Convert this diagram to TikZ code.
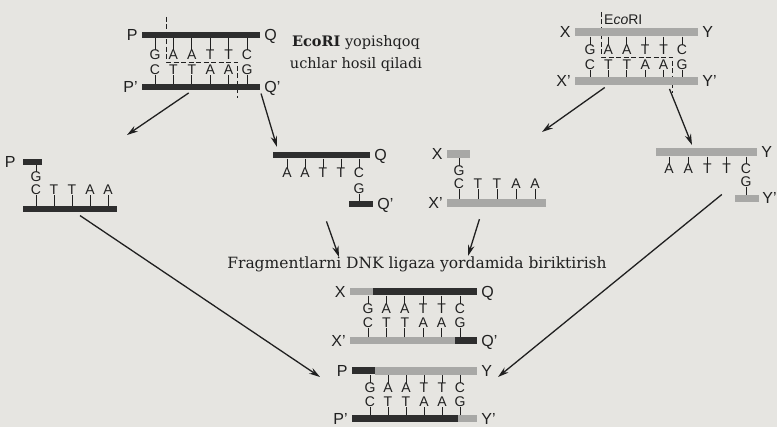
\documentclass[tikz,border=0pt]{standalone}
\usepackage{fontspec}
\setmainfont{DejaVu Serif}
\setsansfont{Liberation Sans}
\usetikzlibrary{arrows.meta,positioning}
\definecolor{paper}{HTML}{E6E5E1}
\definecolor{ink}{HTML}{202020}
\definecolor{dark}{HTML}{2E2E2E}
\definecolor{pale}{HTML}{A8A8A6}

\begin{document}
\begin{tikzpicture}[
  x=1pt, y=-1pt,
  >=Stealth,
  dstrand/.style={fill=dark, inner sep=0, minimum height=6pt},
  lstrand/.style={fill=pale, inner sep=0, minimum height=8pt},
  nuc/.style={font=\sffamily\fontsize{14}{15}\selectfont, text=ink, inner sep=0, text height=10pt, text depth=0pt},
  endlbl/.style={font=\sffamily\fontsize{16}{16}\selectfont, text=ink, inner sep=0, text height=11pt, text depth=0pt},
  stem/.style={draw=ink, line width=0.8pt},
  cutline/.style={draw=ink, line width=0.7pt, dash pattern=on 5pt off 2.5pt},
  arr/.style={draw=ink, line width=1.3pt, -{Stealth[length=11pt,width=6.5pt]}},
  note/.style={font=\fontsize{14.5}{22}\selectfont, text=ink, align=center, inner sep=0},
]
\useasboundingbox (0,0) rectangle (777,427);
\fill[paper] (0,0) rectangle (777,427);

% P-Q duplex with the EcoRI site
\draw[cutline] (166,17) -- (166,62) -- (237,62) -- (237,98);
\node[dstrand, minimum width=118pt] (pqt) at (201,35) {};
\node[dstrand, minimum width=118pt] (pqb) at (201,87.5) {};
\node[endlbl, left=4pt of pqt] (pql) {P};
\node[endlbl, right=4pt of pqt] (pqr) {Q};
\node[endlbl, left=4pt of pqb] (pqbl) {P'};
\node[endlbl, right=4pt of pqb] (pqbr) {Q'};
\foreach \b [count=\i] in {G,A,A,T,T,C}
  \node[nuc] (pq\i) at ({155+18.4*(\i-1)},55) {\b};
\foreach \b [count=\i] in {C,T,T,A,A,G}
  \node[nuc] (pqc\i) at ({155+18.4*(\i-1)},70) {\b};
\foreach \i in {1,...,6} {
  \draw[stem] (pqt.south -| pq\i) -- (pq\i.north);
  \draw[stem] (pqb.north -| pqc\i) -- (pqc\i.south);
}
\node[note] (ecotxt) at (356,54) {\textbf{EcoRI} yopishqoq\\uchlar hosil qiladi};

% X-Y duplex
\draw[cutline] (601,12) -- (601,57) -- (672,57) -- (672,93);
\node[nuc, anchor=west] (eco) at (604,20) {E\textit{co}RI};
\node[lstrand, minimum width=123pt] (xyt) at (636.5,32.5) {};
\node[lstrand, minimum width=123pt] (xyb) at (636.5,81) {};
\node[endlbl, left=4pt of xyt] (xyl) {X};
\node[endlbl, right=4pt of xyt] (xyr) {Y};
\node[endlbl, left=4pt of xyb] (xybl) {X'};
\node[endlbl, right=4pt of xyb] (xybr) {Y'};
\foreach \b [count=\i] in {G,A,A,T,T,C}
  \node[nuc] (xy\i) at ({590+18.4*(\i-1)},50) {\b};
\foreach \b [count=\i] in {C,T,T,A,A,G}
  \node[nuc] (xyc\i) at ({590+18.4*(\i-1)},65) {\b};
\foreach \i in {1,...,6} {
  \draw[stem] (xyt.south -| xy\i) -- (xy\i.north);
  \draw[stem] (xyb.north -| xyc\i) -- (xyc\i.south);
}

% fragment P
\node[dstrand, minimum width=19pt] (fpt) at (32.5,162) {};
\node[endlbl, left=7pt of fpt] (fpl) {P};
\node[nuc] (fpg) at (36,177) {G};
\foreach \b [count=\i] in {C,T,T,A,A}
  \node[nuc] (fp\i) at ({36+18*(\i-1)},190) {\b};
\node[dstrand, minimum width=94pt] (fpb) at (70,209) {};
\draw[stem] (fpt.south -| fpg) -- (fpg.north);
\foreach \i in {1,...,5}
  \draw[stem] (fpb.north -| fp\i) -- (fp\i.south);

% fragment Q
\node[dstrand, minimum width=97pt] (fqt) at (321.5,155.5) {};
\node[endlbl, right=4pt of fqt] (fqr) {Q};
\foreach \b [count=\i] in {A,A,T,T,C}
  \node[nuc] (fq\i) at ({287+18*(\i-1)},173) {\b};
\node[nuc] (fqg) at (359,189) {G};
\node[dstrand, minimum width=24pt] (fqb) at (361,204) {};
\node[endlbl, right=4pt of fqb] (fqbr) {Q'};
\foreach \i in {1,...,5}
  \draw[stem] (fqt.south -| fq\i) -- (fq\i.north);
\draw[stem] (fqb.north -| fqg) -- (fqg.south);

% fragment X
\node[lstrand, minimum width=23pt] (fxt) at (458.5,154) {};
\node[endlbl, left=4pt of fxt] (fxl) {X};
\node[nuc] (fxg) at (459,171) {G};
\foreach \b [count=\i] in {C,T,T,A,A}
  \node[nuc] (fx\i) at ({459+19*(\i-1)},184) {\b};
\node[lstrand, minimum width=99pt] (fxb) at (496.5,203.5) {};
\node[endlbl, left=4pt of fxb] (fxbl) {X'};
\draw[stem] (fxt.south -| fxg) -- (fxg.north);
\foreach \i in {1,...,5}
  \draw[stem] (fxb.north -| fx\i) -- (fx\i.south);

% fragment Y
\node[lstrand, minimum width=101pt] (fyt) at (706.5,152.5) {};
\node[endlbl, right=4pt of fyt] (fyr) {Y};
\foreach \b [count=\i] in {A,A,T,T,C}
  \node[nuc] (fy\i) at ({669+19.25*(\i-1)},169) {\b};
\node[nuc] (fyg) at (746,182) {G};
\node[lstrand, minimum width=24pt, minimum height=7pt] (fyb) at (747,198.5) {};
\node[endlbl, right=3pt of fyb] (fybr) {Y'};
\foreach \i in {1,...,5}
  \draw[stem] (fyt.south -| fy\i) -- (fy\i.north);
\draw[stem] (fyb.north -| fyg) -- (fyg.south);

\node[note, font=\fontsize{15.5}{20}\selectfont] (liga) at (417,264) {Fragmentlarni DNK ligaza yordamida biriktirish};

% X-Q joined
\node[lstrand, minimum width=23pt, minimum height=7pt] (xqt1) at (361.5,292) {};
\node[dstrand, minimum width=104pt, minimum height=7pt] (xqt2) at (425,292) {};
\node[lstrand, minimum width=105pt, minimum height=7pt] (xqb1) at (402.5,341) {};
\node[dstrand, minimum width=22pt, minimum height=7pt] (xqb2) at (466,341) {};
\node[endlbl, left=4pt of xqt1] (xql) {X};
\node[endlbl, right=4pt of xqt2] (xqr) {Q};
\node[endlbl, left=4pt of xqb1] (xqbl) {X'};
\node[endlbl, right=4pt of xqb2] (xqbr) {Q'};
\foreach \b [count=\i] in {G,A,A,T,T,C}
  \node[nuc] (xq\i) at ({368+18.4*(\i-1)},309) {\b};
\foreach \b [count=\i] in {C,T,T,A,A,G}
  \node[nuc] (xqc\i) at ({368+18.4*(\i-1)},323) {\b};
\foreach \i in {1,...,6} {
  \draw[stem] (xqt2.south -| xq\i) -- (xq\i.north);
  \draw[stem] (xqb1.north -| xqc\i) -- (xqc\i.south);
}

% P-Y recombinant
\node[dstrand, minimum width=23pt, minimum height=7pt] (pyt1) at (363.5,371) {};
\node[lstrand, minimum width=102pt] (pyt2) at (426,371) {};
\node[dstrand, minimum width=106pt, minimum height=7pt] (pyb1) at (405,419) {};
\node[lstrand, minimum width=19pt, minimum height=7pt] (pyb2) at (467.5,419) {};
\node[endlbl, left=4pt of pyt1] (pyl) {P};
\node[endlbl, right=4pt of pyt2] (pyr) {Y};
\node[endlbl, left=4pt of pyb1] (pybl) {P'};
\node[endlbl, right=4pt of pyb2] (pybr) {Y'};
\foreach \b [count=\i] in {G,A,A,T,T,C}
  \node[nuc] (py\i) at ({370+18*(\i-1)},388) {\b};
\foreach \b [count=\i] in {C,T,T,A,A,G}
  \node[nuc] (pyc\i) at ({370+18*(\i-1)},402) {\b};
\foreach \i in {1,...,6} {
  \draw[stem] (pyt2.south -| py\i) -- (py\i.north);
  \draw[stem] (pyb1.north -| pyc\i) -- (pyc\i.south);
}

% arrows
\coordinate (h1) at (127,135);
\coordinate (h2) at (277,147);
\coordinate (h3) at (542,132);
\coordinate (h4) at (692,145);
\coordinate (h5) at (320,377);
\coordinate (h6) at (339,257);
\coordinate (h7) at (468,256);
\coordinate (h8) at (498,377);
\draw[arr, shorten <=4pt] ([xshift=-9pt]pqb.south) -- (h1);
\draw[arr, shorten <=3pt] (pqb.south east) -- (h2);
\draw[arr, shorten <=4pt] ([xshift=-28.5pt]xyb.south) -- (h3);
\draw[arr, shorten <=4pt] ([xshift=31.5pt]xyb.south) -- (h4);
\draw[arr, shorten <=6pt] ([xshift=5pt]fpb.south) -- (h5);
\draw[arr, shorten <=15pt] (fqt |- fqb.south) -- (h6);
\draw[arr, shorten <=12pt] ([xshift=-13.5pt]fxb.south) -- (h7);
\draw[arr] ([xshift=-13pt,yshift=4pt]fyb.west) -- (h8);
\end{tikzpicture}
\end{document}
